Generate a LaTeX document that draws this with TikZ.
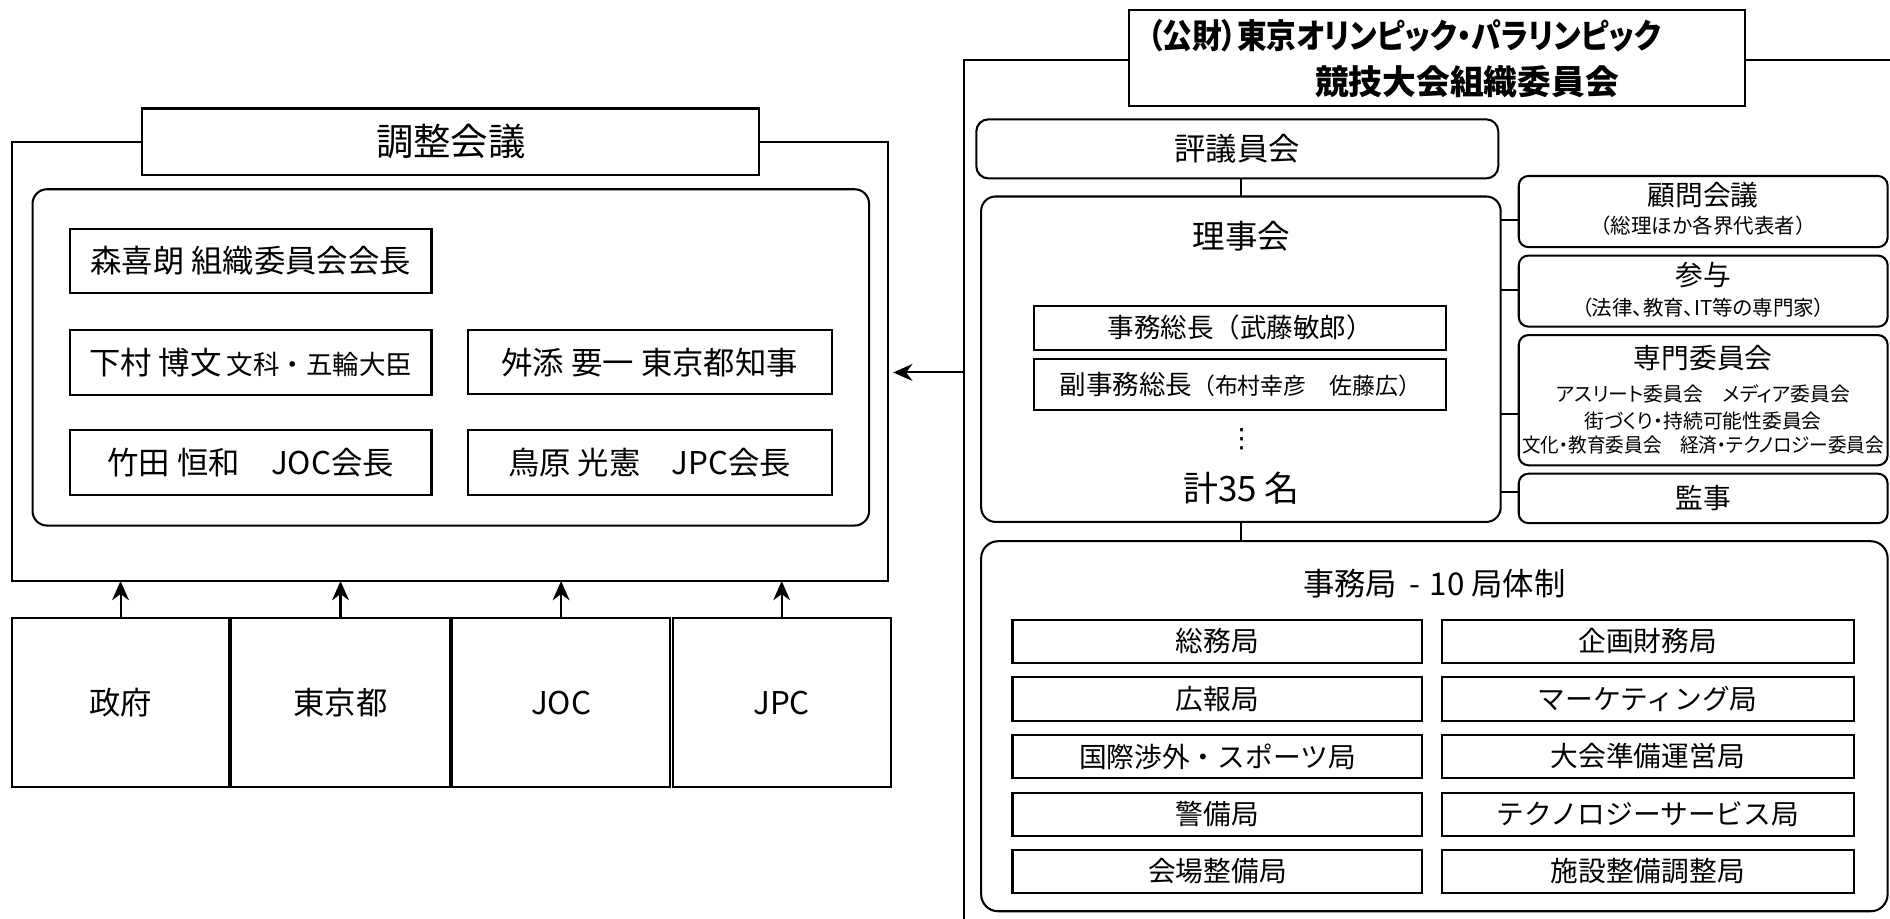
\documentclass[tikz,border=0pt]{standalone}
\usepackage{fontspec}
\setmainfont{Noto Sans CJK JP}
\newfontfamily\jpp{Noto Sans CJK JP}[RawFeature=+palt]
\newfontfamily\dvs{DejaVu Sans}
\usetikzlibrary{arrows.meta}
\newcommand\fsz[1]{\fontsize{#1}{#1}\selectfont}
\begin{document}
\begin{tikzpicture}[x=0.5pt,y=-0.5pt,line width=0.85pt,
  sq/.style 2 args={draw,rectangle,inner sep=0pt,outer sep=0pt,fill=white,
    minimum width=#1*0.5pt,minimum height=#2*0.5pt},
  rd/.style 2 args={sq={#1}{#2},rounded corners=5pt},
  txt/.style={inner sep=0pt,outer sep=0pt},
  arr/.style={-{Stealth[length=8pt,width=7pt,inset=2.6pt]}}]
\useasboundingbox (0,0) rectangle (1568,762);
% ---------------- left panel
\node[sq={727}{364},fill=none] (lframe) at (373.5,300) {};
\node[sq={512}{55},font=\fsz{15.5}] (chosei) at (374,117.5) {調整会議};
\node[rd={694}{279},rounded corners=6pt,fill=none] (linner) at (374,296.5) {};
\node[sq={300}{53},font=\fsz{13}] (mori) at (208,216.5) {森喜朗 組織委員会会長};
\node[sq={300}{54}] (shimomura) at (208,301) {{\fsz{13}下村 博文} {\fsz{11}文科・五輪大臣}};
\node[sq={302}{53},font=\fsz{13}] (masuzoe) at (539,300.5) {舛添 要一 東京都知事};
\node[sq={300}{54},font=\fsz{13}] (takeda) at (208,384) {竹田 恒和　JOC会長};
\node[sq={302}{54},font=\fsz{13}] (torihara) at (539,384) {鳥原 光憲　JPC会長};
\node[sq={180}{140},font=\fsz{13}] (gov) at (100,583) {政府};
\node[sq={181}{140},font=\fsz{13}] (tokyo) at (282.5,583) {東京都};
\node[sq={181}{140},font=\fsz{13}] (joc) at (465.5,583) {JOC};
\node[sq={181}{140},font=\fsz{13}] (jpc) at (648.5,583) {JPC};
\foreach \n in {gov,tokyo,joc,jpc}
  \draw[arr] (\n.north) -- (\n.north |- lframe.south);
% ---------------- right panel
\coordinate (rtop) at (800,50);
\coordinate (rbot) at (800,762);
\coordinate (rright) at (1568,50);
\draw (rbot) -- (rtop) -- (rright);
\coordinate (rarr) at (800,309);
\draw[arr] (rarr) -- ([xshift=2pt]lframe.east |- rarr);
\node[sq={511}{80}] (title) at (1192.5,48) {};
\node[txt,font=\jpp\bfseries\fsz{14}] (title1) at (1165,30) {\scalebox{0.88}[1]{（公財）東京オリンピック・パラリンピック}};
\node[txt,font=\jpp\bfseries\fsz{14}] (title2) at (1217,68) {競技大会組織委員会};
\node[rd={433}{49},font=\fsz{13}] (hyogi) at (1026.5,123.5) {評議員会};
\node[rd={431}{270},rounded corners=6pt] (riji) at (1029.5,298) {};
\node[txt,font=\fsz{13.5}] (rijit) at (1030,196) {理事会};
\node[sq={342}{36},font=\fsz{11}] (somu) at (1029,272) {事務総長（武藤敏郎）};
\node[sq={342}{42}] (fuku) at (1029,319) {{\fsz{11}副事務総長}{\fsz{9.5}（布村幸彦　佐藤広）}};
\node[txt,font=\dvs\fsz{11}] (dots) at (1030,364) {⋮};
\node[txt,font=\fsz{14.5}] (kei) at (1030,405) {計35 名};
\draw (riji.north) -- (riji.north |- hyogi.south);
% side boxes
\node[rd={306}{59},rounded corners=4pt] (komon) at (1413,175.5) {};
\node[txt,font=\fsz{11.5}] (komont) at (1413,162) {顧問会議};
\node[txt,font=\fsz{8.5}] (komons) at (1413,187) {（総理ほか各界代表者）};
\node[rd={306}{59},rounded corners=4pt] (sanyo) at (1413,241.5) {};
\node[txt,font=\fsz{11.5}] (sanyot) at (1413,228) {参与};
\node[txt,font=\jpp\fsz{8.5}] (sanyos) at (1413,255) {（法律、教育、IT等の専門家）};
\node[rd={306}{108},rounded corners=4pt] (senmon) at (1413,332) {};
\node[txt,font=\fsz{11.5}] (senmont) at (1413,297) {専門委員会};
\node[txt,font=\jpp\fsz{8.2}] (senmon1) at (1413,327) {アスリート委員会　メディア委員会};
\node[txt,font=\jpp\fsz{8.2}] (senmon2) at (1413,349) {街づくり・持続可能性委員会};
\node[txt,font=\jpp\fsz{8.2}] (senmon3) at (1413,369) {\scalebox{0.94}[1]{文化・教育委員会　経済・テクノロジー委員会}};
\node[rd={306}{41},rounded corners=4pt,font=\fsz{11.5}] (kanji) at (1413,413.5) {監事};
\draw (riji.east |- 0,182.5) -- (komon.west |- 0,182.5);
\draw (riji.east |- 0,240.5) -- (sanyo.west |- 0,240.5);
\draw (riji.east |- 0,343.5) -- (senmon.west |- 0,343.5);
\draw (riji.east |- 0,408) -- (kanji.west |- 0,408);
% secretariat
\node[rd={752}{307},rounded corners=7pt] (jimu) at (1190,602.5) {};
\draw (riji.south) -- (riji.south |- jimu.north);
\node[txt,font=\fsz{13}] (jimut) at (1190,484) {事務局\hspace{5pt}-\hspace{4pt}10 局体制};
\node[sq={340}{36},font=\fsz{11.5}] (k1) at (1010,532) {総務局};
\node[sq={340}{36},font=\fsz{11.5}] (k2) at (1010,580) {広報局};
\node[sq={340}{36},font=\fsz{11.5}] (k3) at (1010,627.5) {国際渉外・スポーツ局};
\node[sq={340}{36},font=\fsz{11.5}] (k4) at (1010,675.5) {警備局};
\node[sq={340}{36},font=\fsz{11.5}] (k5) at (1010,723) {会場整備局};
\node[sq={342}{36},font=\fsz{11.5}] (r1) at (1367,532) {企画財務局};
\node[sq={342}{36},font=\fsz{11.5}] (r2) at (1367,580) {マーケティング局};
\node[sq={342}{36},font=\fsz{11.5}] (r3) at (1367,627.5) {大会準備運営局};
\node[sq={342}{36},font=\fsz{11.5}] (r4) at (1367,675.5) {テクノロジーサービス局};
\node[sq={342}{36},font=\fsz{11.5}] (r5) at (1367,723) {施設整備調整局};
\end{tikzpicture}
\end{document}
